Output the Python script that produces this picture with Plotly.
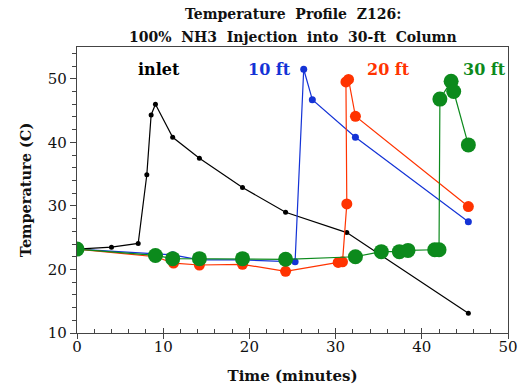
import plotly.graph_objects as go

# ---- data ----
inlet_x = [0, 4, 7.1, 8.1, 8.6, 9.1, 11.1, 14.2, 19.2, 24.2, 31.3, 45.4]
inlet_y = [23.2, 23.5, 24.1, 34.9, 44.3, 46.0, 40.8, 37.5, 32.9, 29.0, 25.8, 13.1]

ft10_x = [0, 9.1, 11.1, 14.2, 19.2, 25.3, 26.3, 27.3, 32.3, 45.4]
ft10_y = [23.2, 22.5, 22.3, 21.5, 21.5, 21.2, 51.5, 46.7, 40.8, 27.5]

ft20_x = [0, 9.1, 11.2, 14.2, 19.2, 24.2, 30.3, 30.8, 31.3, 31.2, 31.5, 32.3, 45.4]
ft20_y = [23.2, 22.0, 21.0, 20.7, 20.8, 19.7, 21.1, 21.2, 30.3, 49.5, 49.9, 44.1, 29.9]

ft30_x = [0, 9.1, 11.1, 14.2, 19.2, 24.2, 32.3, 35.3, 37.4, 38.4, 41.5, 42.0, 42.1, 43.4, 43.7, 45.4]
ft30_y = [23.2, 22.2, 21.7, 21.7, 21.7, 21.6, 22.0, 22.8, 22.8, 23.0, 23.1, 23.1, 46.8, 49.6, 48.0, 39.6]

labels = ["inlet", "10 ft", "20 ft", "30 ft"]
label_x = [9.5, 22.3, 36.1, 47.3]
label_y = [51.5, 51.5, 51.5, 51.5]

title_lines = ["Temperature  Profile  Z126:", "100%  NH3  Injection  into  30-ft  Column"]
x_title = "Time (minutes)"
y_title = "Temperature (C)"

colors = ["#000000", "#1433d6", "#ff3300", "#0c8a1c"]
msizes = [5, 7, 11, 15]
FONT = "DejaVu Serif"

fig = go.Figure()
series = [(inlet_x, inlet_y), (ft10_x, ft10_y), (ft20_x, ft20_y), (ft30_x, ft30_y)]
for (xs, ys), c, ms, name in zip(series, colors, msizes, labels):
    fig.add_trace(go.Scatter(x=xs, y=ys, mode="lines+markers", name=name,
                             line=dict(color=c, width=1.2),
                             marker=dict(color=c, size=ms), showlegend=False))

for t, x, y, c in zip(labels, label_x, label_y, colors):
    fig.add_annotation(x=x, y=y, text="<b>%s</b>" % t, showarrow=False,
                       font=dict(family=FONT, size=16, color=c), xanchor="center", yanchor="middle")

for line, shift in zip(title_lines, [33, 10]):
    fig.add_annotation(x=0.5, xref="paper", y=1, yref="paper", yanchor="middle", xanchor="center",
                       yshift=shift, showarrow=False, text="<b>" + line + "</b>",
                       font=dict(family=FONT, size=14, color="#111"))

fig.update_layout(
    width=526, height=387,
    margin=dict(l=77, r=18, t=47, b=54, autoexpand=False),
    paper_bgcolor="white", plot_bgcolor="white",
    font=dict(family=FONT, color="#111"),
    xaxis=dict(range=[0, 50], dtick=10, tick0=0, ticks="inside", ticklen=5, tickwidth=1,
               tickcolor="#444", showline=True, linecolor="#444", linewidth=1.3, mirror=True,
               showgrid=False, zeroline=False, automargin=False,
               minor=dict(dtick=2, ticks="inside", ticklen=4, tickcolor="#444", showgrid=False),
               tickfont=dict(family=FONT, size=15, color="#111"),
               title=dict(text="<b>" + x_title + "</b>", standoff=15,
                          font=dict(family=FONT, size=15, color="#111"))),
    xaxis2=dict(range=[0, 50], dtick=10, tick0=0, overlaying="x", anchor="y", side="bottom",
                ticks="outside", ticklen=5, tickcolor="#444", showticklabels=False,
                showgrid=False, zeroline=False, showline=False, automargin=False),
    yaxis=dict(range=[10, 55], dtick=10, tick0=10, ticks="outside", ticklen=6, tickwidth=1,
               tickcolor="#444", showline=True, linecolor="#444", linewidth=1.3, mirror=True,
               showgrid=False, zeroline=False, automargin=False,
               minor=dict(dtick=2, ticks="outside", ticklen=4, tickcolor="#444", showgrid=False),
               tickfont=dict(family=FONT, size=15, color="#111"),
               title=dict(text="<b>" + y_title + "</b>", standoff=12,
                          font=dict(family=FONT, size=14.5, color="#111"))),
)
fig.add_trace(go.Scatter(x=[0], y=[10], xaxis="x2", mode="markers", marker=dict(opacity=0),
                         showlegend=False, hoverinfo="skip"))

fig.write_html("out.html")
